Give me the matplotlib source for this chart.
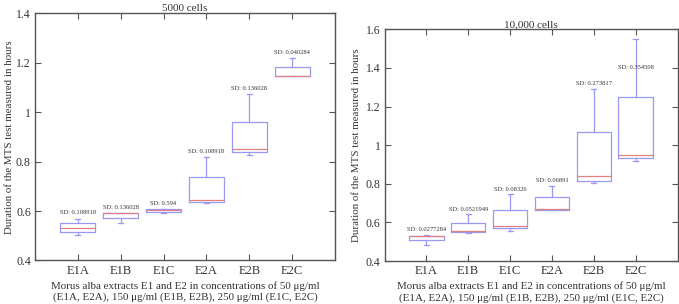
import matplotlib
matplotlib.use("Agg")
import matplotlib.pyplot as plt

plt.rcParams['font.family'] = ['Liberation Serif', 'DejaVu Serif']

groups = ['E1A', 'E1B', 'E1C', 'E2A', 'E2B', 'E2C']

# 5000 cells: whisker low, q1, median, q3, whisker high
lo_5k = [0.502, 0.551, 0.591, 0.633, 0.828, 1.148]
q1_5k = [0.516, 0.571, 0.598, 0.637, 0.838, 1.148]
med_5k = [0.532, 0.594, 0.605, 0.645, 0.851, 1.148]
q3_5k = [0.552, 0.594, 0.609, 0.738, 0.959, 1.183]
hi_5k = [0.568, 0.594, 0.609, 0.817, 1.075, 1.220]
sd_5k = ['0.108918', '0.136028', '0.594', '0.108918', '0.136028', '0.040284']
sd_y_5k = [0.595, 0.615, 0.632, 0.840, 1.095, 1.241]

# 10,000 cells
lo_10k = [0.483, 0.544, 0.555, 0.666, 0.803, 0.918]
q1_10k = [0.508, 0.548, 0.570, 0.666, 0.816, 0.936]
med_10k = [0.529, 0.555, 0.581, 0.670, 0.842, 0.950]
q3_10k = [0.532, 0.598, 0.664, 0.732, 1.066, 1.250]
hi_10k = [0.536, 0.643, 0.748, 0.790, 1.291, 1.552]
sd_10k = ['0.0277284', '0.0521949', '0.08326', '0.06891', '0.273817', '0.354508']
sd_y_10k = [0.562, 0.668, 0.772, 0.819, 1.317, 1.400]

xlabel = ('Morus alba extracts E1 and E2 in concentrations of 50 \u03bcg/ml\n'
          '(E1A, E2A), 150 \u03bcg/ml (E1B, E2B), 250 \u03bcg/ml (E1C, E2C)')
ylabel = 'Duration of the MTS test measured in hours'

box_col = '#9a9af5'
med_col = '#e08080'
spine_col = '#555555'
text_col = '#333333'

fig = plt.figure(figsize=(6.79, 3.04), dpi=100)
ax1 = fig.add_axes([0.0515, 0.1431, 0.4419, 0.8132])
ax2 = fig.add_axes([0.5663, 0.1414, 0.4315, 0.7622])


def draw(ax, lo, q1, med, q3, hi, sd, sd_y, title, ylim, yticks, ypad):
    stats = []
    for i in range(len(groups)):
        stats.append(dict(whislo=lo[i], q1=q1[i], med=med[i], q3=q3[i],
                          whishi=hi[i], label=groups[i]))
    pos = list(range(1, len(groups) + 1))
    ax.bxp(stats, positions=pos, widths=0.82, showfliers=False,
           capwidths=0.12,
           boxprops=dict(color=box_col, linewidth=0.9),
           whiskerprops=dict(color=box_col, linewidth=0.9),
           capprops=dict(color=box_col, linewidth=0.9),
           medianprops=dict(color=med_col, linewidth=0.9))
    for p, s, y in zip(pos, sd, sd_y):
        ax.text(p, y, 'SD: ' + s, ha='center', va='center', fontsize=4.7,
                color=text_col)
    ax.set_xlim(0, 7)
    ax.set_ylim(*ylim)
    ax.set_yticks(yticks)
    ax.set_yticklabels([('%g' % t) for t in yticks])
    ax.set_xticks(pos)
    ax.set_xticklabels(groups)
    ax.tick_params(direction='in', top=True, right=True, length=4,
                   width=0.8, color=spine_col, labelcolor=text_col, pad=3)
    ax.tick_params(axis='x', labelsize=9)
    ax.tick_params(axis='y', labelsize=8.5)
    for s in ax.spines.values():
        s.set_color(spine_col)
        s.set_linewidth(1.0)
    ax.set_title(title, fontsize=8, color=text_col, pad=1.5)
    ax.set_xlabel(xlabel, fontsize=7.9, color=text_col, linespacing=1.25,
                  labelpad=3)
    ax.set_ylabel(ylabel, fontsize=7.8, color=text_col, labelpad=ypad)


draw(ax1, lo_5k, q1_5k, med_5k, q3_5k, hi_5k, sd_5k, sd_y_5k,
     '5000 cells', (0.4, 1.4), [0.4, 0.6, 0.8, 1.0, 1.2, 1.4], 1.5)
draw(ax2, lo_10k, q1_10k, med_10k, q3_10k, hi_10k, sd_10k, sd_y_10k,
     '10,000 cells', (0.4, 1.6), [0.4, 0.6, 0.8, 1.0, 1.2, 1.4, 1.6], 3)

fig.savefig('out.png', dpi=100)
